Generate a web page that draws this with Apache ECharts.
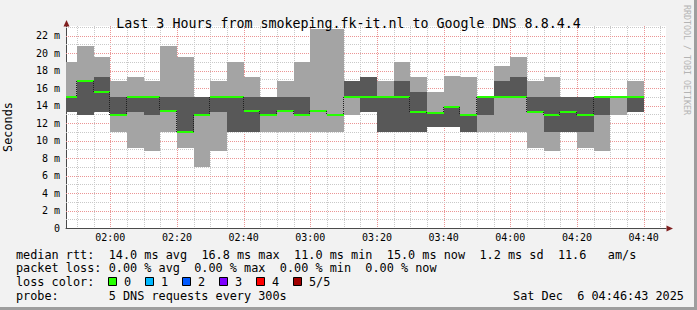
<!DOCTYPE html>
<html><head><meta charset="utf-8">
<script src="https://cdn.jsdelivr.net/npm/echarts@6/dist/echarts.min.js"></script>
<style>html,body{margin:0;padding:0;background:#F2F2F2;}#c{width:697px;height:310px;}</style>
</head><body><div id="c"></div>
<script>
// ---- data ----
const titleText = 'Last 3 Hours from smokeping.fk-it.nl to Google DNS 8.8.4.4';
const windowStart = '01:46:43';
const windowEnd = '04:46:43';
const stepMinutes = 5;
const times = ['01:45','01:50','01:55','02:00','02:05','02:10','02:15','02:20','02:25','02:30','02:35','02:40','02:45','02:50','02:55',
  '03:00','03:05','03:10','03:15','03:20','03:25','03:30','03:35','03:40','03:45','03:50','03:55',
  '04:00','04:05','04:10','04:15','04:20','04:25','04:30','04:35'];
const ping1 = [13.3,12.9,13.3,11.0,9.2,8.8,11.0,9.2,7.0,8.8,11.0,11.0,11.0,11.0,11.0,11.0,11.0,12.9,13.3,11.0,11.0,11.0,11.5,11.6,11.0,11.0,11.0,11.0,9.2,8.8,11.0,9.2,8.8,12.9,13.3];
const ping2 = [13.3,12.9,13.3,12.9,13.3,12.9,13.3,11.0,12.9,13.3,11.0,11.0,12.9,13.3,12.9,13.4,12.9,15.0,13.3,11.0,11.0,11.0,11.5,11.6,11.0,12.9,15.0,15.0,13.3,11.0,11.0,11.0,12.9,15.0,13.3];
const median = [15.0,16.8,15.6,12.9,15.0,15.0,13.4,11.0,12.9,15.0,15.0,13.4,12.9,13.4,12.9,13.4,12.9,15.0,15.0,15.0,15.0,13.3,13.2,13.8,12.9,15.0,15.0,15.0,13.3,12.9,13.3,12.9,15.0,15.0,15.0];
const ping4 = [15.0,16.8,17.3,15.0,15.0,15.0,15.0,15.0,15.0,15.0,15.0,15.0,15.0,15.0,15.0,13.4,12.9,16.8,17.3,15.0,16.8,15.5,13.2,13.8,12.9,15.0,16.8,17.3,15.0,15.0,15.0,15.0,15.0,15.0,15.0];
const ping5 = [19.0,20.8,19.5,16.8,17.3,16.8,20.8,19.5,15.0,16.8,19.0,17.3,15.0,16.8,19.0,22.8,22.8,16.8,17.3,16.8,19.0,17.3,15.5,17.4,17.3,15.0,18.5,19.5,16.8,17.3,15.0,15.0,15.0,15.0,16.8];
const xTickLabels = ['02:00','02:20','02:40','03:00','03:20','03:40','04:00','04:20','04:40'];
const yTickValues = [0,2,4,6,8,10,12,14,16,18,20,22];
const yAxisName = 'Seconds';
const legendRows = [
  [[0,'median rtt:'],[13,'14.0 ms avg'],[26,'16.8 ms max'],[39,'11.0 ms min'],[52,'15.0 ms now'],[65,'1.2 ms sd'],[76,'11.6'],[83,'am/s']],
  [[0,'packet loss:'],[13,'0.00 % avg'],[25,'0.00 % max'],[37,'0.00 % min'],[49,'0.00 % now']],
  [[0,'loss color:']],
  [[0,'probe:'],[13,'5 DNS requests every 300s']]
];
const lossLabels = ['0','1','2','3','4','5/5'];
const lossColors = ['#26ff00','#00b8ff','#0059ff','#7e00ff','#ff0000','#a10000'];
const dateText = 'Sat Dec  6 04:46:43 2025';
const watermark = 'RRDTOOL / TOBI OETIKER';

// ---- build ----
const toMin = s => { const p = s.split(':').map(Number); return p[0]*60 + p[1] + (p[2]||0)/60; };
const xMin = toMin(windowStart), xMax = toMin(windowEnd);
const yMax = 23.086;
const fmtHM = v => { const h = Math.floor(v/60), m = Math.round(v%60); return String(h).padStart(2,'0')+':'+String(m).padStart(2,'0'); };

const smokeData = times.map((t,i)=>[toMin(t), ping1[i], ping2[i], median[i], ping4[i], ping5[i], i>0?median[i-1]:median[i]]);

const gridData = [];
for (let m = Math.ceil(xMin/5)*5; m < xMax; m += 5) gridData.push([m, (m%20===0)?1:0]);
for (let v = 1; v < yMax; v += 1) gridData.push([v, (v%2===0)?3:2]);

function renderGrid(params, api){
  const cs = params.coordSys;
  const v = api.value(0), kind = api.value(1);
  const major = (kind===1 || kind===3);
  const style = {stroke: major ? '#EB9595' : '#C9C9C9', lineWidth:1, lineDash:[1,1], fill:null};
  if (kind < 2) {
    const x = Math.round(api.coord([v,0])[0]) + 0.5;
    return {type:'line', shape:{x1:x,y1:cs.y,x2:x,y2:cs.y+cs.height}, style};
  }
  const y = Math.round(api.coord([xMin,v])[1]) + 0.5;
  return {type:'line', shape:{x1:cs.x,y1:y,x2:cs.x+cs.width,y2:y}, style};
}

function renderSmoke(params, api){
  const cs = params.coordSys;
  const t0 = api.value(0);
  let x0 = api.coord([t0,0])[0], x1 = api.coord([t0+stepMinutes,0])[0];
  x0 = Math.round(Math.max(x0, cs.x)); x1 = Math.round(Math.min(x1, cs.x+cs.width));
  const Y = v => Math.round(api.coord([t0, v])[1]);
  const y1=Y(api.value(1)), y2=Y(api.value(2)), y3=Y(api.value(3)), y4=Y(api.value(4)), y5=Y(api.value(5)), yp=Y(api.value(6));
  const ch = [];
  if (y1>y5) ch.push({type:'rect', shape:{x:x0,y:y5,width:x1-x0,height:y1-y5}, style:{fill:'#A4A4A4'}});
  if (y2>y4) ch.push({type:'rect', shape:{x:x0,y:y4,width:x1-x0,height:y2-y4}, style:{fill:'#585858'}});
  if (yp!==y3) ch.push({type:'line', shape:{x1:x0-0.5,y1:Math.min(yp,y3),x2:x0-0.5,y2:Math.max(yp,y3)}, style:{stroke:'#202020', lineWidth:1, lineDash:[1,1], fill:null}});
  ch.push({type:'rect', shape:{x:x0,y:y3-1,width:x1-x0,height:2}, style:{fill:'#26ff00'}});
  return {type:'group', children:ch};
}

const FONT = 'DejaVu Sans Mono';
const CW = 7.13, LX = 16, LFS = 11.84;
const rowY = [254.7, 268.3, 282.3, 296];
const graphics = [];
legendRows.forEach((row, r) => row.forEach(([col, txt]) => graphics.push({
  type:'text', x: LX + col*CW, y: rowY[r], silent:true,
  style:{text:txt, font: LFS+'px "'+FONT+'"', fill:'#000', textVerticalAlign:'middle', textAlign:'left'}
})));
lossLabels.forEach((lab,i) => {
  graphics.push({type:'rect', shape:{x:108.5+37*i, y:277.5, width:8, height:8}, style:{fill:lossColors[i], stroke:'#000', lineWidth:1}, silent:true});
  graphics.push({type:'text', x:124+37*i, y:rowY[2], silent:true, style:{text:lab, font: LFS+'px "'+FONT+'"', fill:'#000', textVerticalAlign:'middle'}});
});
graphics.push({type:'text', x:684, y:rowY[3], silent:true, style:{text:dateText, font: LFS+'px "'+FONT+'"', fill:'#000', textVerticalAlign:'middle', textAlign:'right'}});
graphics.push({type:'text', x:687, y:5, rotation:-Math.PI/2, silent:true, style:{text:watermark, font:'8.3px "'+FONT+'"', fill:'#B4B4B4', textVerticalAlign:'middle', textAlign:'left'}});
// frame shading and axis arrows
graphics.push({type:'rect', shape:{x:694,y:0,width:3,height:310}, style:{fill:'#9E9E9E'}, silent:true});
graphics.push({type:'rect', shape:{x:0,y:307,width:697,height:3}, style:{fill:'#9E9E9E'}, silent:true});
graphics.push({type:'polygon', shape:{points:[[66.5,20],[63.5,26.5],[69.5,26.5]]}, style:{fill:'#801F1F'}, silent:true, z:100});
graphics.push({type:'polygon', shape:{points:[[673,228.5],[666.5,225.5],[666.5,231.5]]}, style:{fill:'#801F1F'}, silent:true, z:100});

const chart = echarts.init(document.getElementById('c'), null, {renderer:'svg', width:697, height:310});
chart.setOption({
  animation:false,
  backgroundColor:'#F2F2F2',
  title:{text:titleText, left:'center', top:12, textStyle:{fontFamily:FONT, fontSize:13.3, fontWeight:'normal', color:'#000'}},
  grid:{left:66, right:31, top:26, bottom:82, show:true, backgroundColor:'#FFFFFF', borderWidth:0, containLabel:false, outerBoundsMode:'none'},
  xAxis:{type:'value', min:xMin, max:xMax,
    axisLine:{show:true, lineStyle:{color:'#4A4A4A', width:1}},
    axisTick:{show:false}, splitLine:{show:false},
    axisLabel:{customValues: xTickLabels.map(toMin), formatter: v => fmtHM(v), fontFamily:FONT, fontSize:10, color:'#000', margin:4}},
  yAxis:{type:'value', min:0, max:yMax, interval:2, name:yAxisName, nameLocation:'middle', nameRotate:90, nameGap:52,
    nameTextStyle:{fontFamily:FONT, fontSize:LFS, color:'#000'},
    axisLine:{show:true, lineStyle:{color:'#4A4A4A', width:1}},
    axisTick:{show:false}, splitLine:{show:false},
    axisLabel:{customValues: yTickValues, formatter: v => v===0 ? '0' : (v + ' m'), fontFamily:FONT, fontSize:10, color:'#000', margin:6}},
  series:[
    {type:'custom', name:'grid', silent:true, z:1, renderItem:renderGrid, data:gridData},
    {type:'custom', name:'smoke', silent:true, z:2, renderItem:renderSmoke, data:smokeData}
  ],
  graphic:graphics
});
</script></body></html>
